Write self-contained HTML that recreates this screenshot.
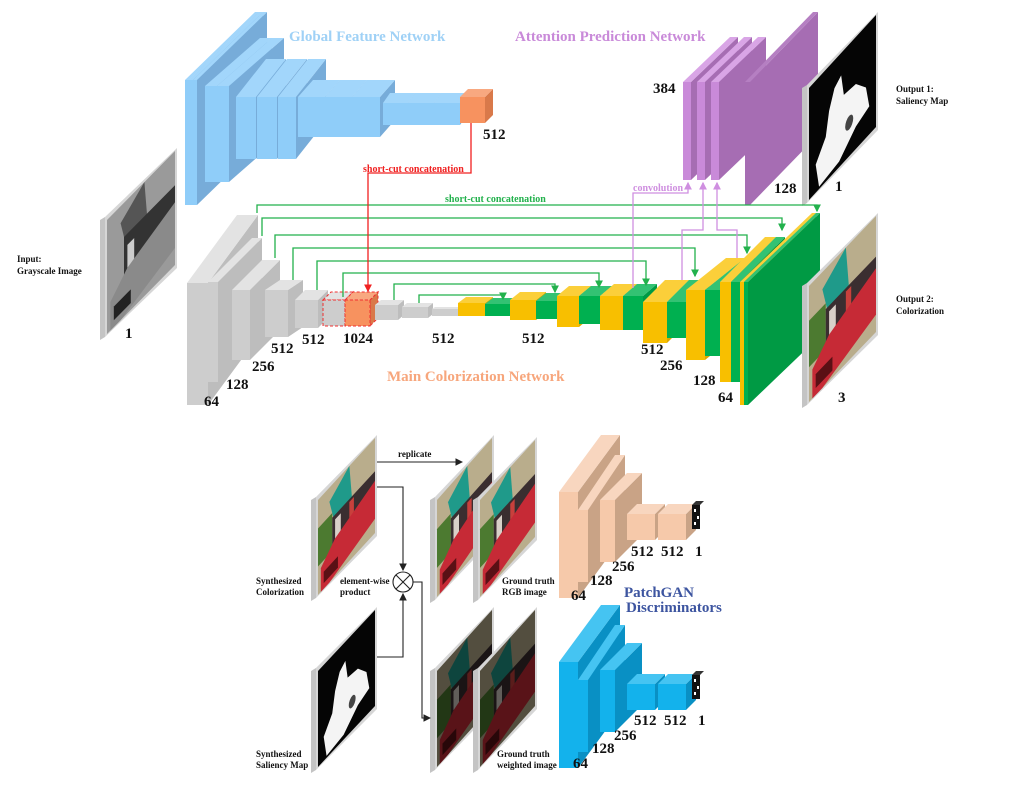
<!DOCTYPE html>
<html><head><meta charset="utf-8"><style>
html,body{margin:0;padding:0;background:#fff;}
svg{display:block;}
text{font-family:"Liberation Serif",serif;font-weight:bold;}
.n{font-size:15px;fill:#111;}
.s{font-size:9px;fill:#111;}
</style></head><body>
<svg id="sv" width="1024" height="811" viewBox="0 0 1024 811" xmlns="http://www.w3.org/2000/svg">
<defs>
<marker id="ag" markerWidth="6" markerHeight="6" refX="5" refY="3" orient="auto"><path d="M0,0L6,3L0,6z" fill="#22b14c"/></marker>
<marker id="ar" markerWidth="6" markerHeight="6" refX="5" refY="3" orient="auto"><path d="M0,0L6,3L0,6z" fill="#f02020"/></marker>
<marker id="ap" markerWidth="6" markerHeight="6" refX="5" refY="3" orient="auto"><path d="M0,0L6,3L0,6z" fill="#cf8fe0"/></marker>
<marker id="ak" markerWidth="7" markerHeight="7" refX="6" refY="3.5" orient="auto"><path d="M0,0L7,3.5L0,7z" fill="#222"/></marker>
<g id="col">
<rect x="0" y="0" width="100" height="100" fill="#b9ad8c"/>
<polygon points="20,15 55,0 60,40 30,45" fill="#1f9a8a"/>
<rect x="0" y="30" width="25" height="40" fill="#4c7a30"/>
<rect x="25" y="35" width="75" height="35" fill="#3a2e30"/>
<rect x="30" y="40" width="10" height="25" fill="#d8d0c8"/>
<rect x="55" y="38" width="8" height="20" fill="#c8403c"/>
<polygon points="5,75 30,60 100,45 100,85 20,100 5,100" fill="#c62a36"/>
<rect x="10" y="82" width="25" height="12" fill="#5a1015"/>
</g>
<g id="gry">
<rect x="0" y="0" width="100" height="100" fill="#9a9a9a"/>
<polygon points="20,15 55,0 60,40 30,45" fill="#555"/>
<rect x="25" y="30" width="75" height="40" fill="#333"/>
<rect x="30" y="40" width="10" height="25" fill="#ccc"/>
<polygon points="5,75 30,60 100,45 100,85 20,100 5,100" fill="#8a8a8a"/>
<rect x="10" y="82" width="25" height="12" fill="#222"/>
</g>
<g id="sal">
<rect x="0" y="0" width="100" height="100" fill="#050505"/>
<path d="M38,25 L48,20 L52,40 L70,42 L85,55 L90,75 L70,80 L45,95 L15,98 L10,75 L25,60 L30,40z" fill="#f4f4f4"/>
<circle cx="60" cy="70" r="6" fill="#444"/>
</g>
<g id="wgt">
<use href="#col"/>
<rect x="0" y="0" width="100" height="100" fill="#000" opacity="0.55"/>
</g>
</defs>
<g id="shapes"></g>

<g fill="none" stroke-width="1.3">
<polyline points="257,213 257,205 817,205 817,211" stroke="#22b14c" marker-end="url(#ag)"/>
<polyline points="262,236 262,218 782,218 782,230" stroke="#22b14c" marker-end="url(#ag)"/>
<polyline points="275,258 275,235 747,235 747,253" stroke="#22b14c" marker-end="url(#ag)"/>
<polyline points="293,280 293,248 695,248 695,276" stroke="#22b14c" marker-end="url(#ag)"/>
<polyline points="317,290 317,261 646,261 646,285" stroke="#22b14c" marker-end="url(#ag)"/>
<polyline points="343,297 343,273 599,273 599,287" stroke="#22b14c" marker-end="url(#ag)"/>
<polyline points="394,300 394,284 555,284 555,292" stroke="#22b14c" marker-end="url(#ag)"/>
<polyline points="419,303 419,295 503,295 503,299" stroke="#22b14c" marker-end="url(#ag)"/>
<polyline points="471,123 471,173 368,173 368,291" stroke="#f02020" marker-end="url(#ar)"/>
<polyline points="633,288 633,193 688,193 688,183" stroke="#cf8fe0" marker-end="url(#ap)"/>
<polyline points="682,280 682,230 703,230 703,183" stroke="#cf8fe0" marker-end="url(#ap)"/>
<polyline points="737,258 737,230 717,230 717,183" stroke="#cf8fe0" marker-end="url(#ap)"/>
<g stroke="#222" stroke-width="1.1">
<polyline points="377,462 462,462" marker-end="url(#ak)"/>
<polyline points="377,487 403,487 403,570" marker-end="url(#ak)"/>
<polyline points="377,657 403,657 403,594" marker-end="url(#ak)"/>
<polyline points="413,582 422,582 422,718 430,718" marker-end="url(#ak)"/>
<circle cx="403" cy="582" r="10" fill="#fff"/>
<line x1="396" y1="575" x2="410" y2="589"/><line x1="410" y1="575" x2="396" y2="589"/>
</g>
</g>

<text x="289" y="41" font-size="15" fill="#9fd1f6">Global Feature Network</text>
<text x="515" y="41" font-size="15" fill="#c98ad9">Attention Prediction Network</text>
<text x="387" y="381" font-size="15" fill="#f7a67c">Main Colorization Network</text>
<text x="363" y="172" font-size="10" fill="#f02020">short-cut concatenation</text>
<text x="445" y="202" font-size="10" fill="#22b14c">short-cut concatenation</text>
<text x="633" y="191" font-size="10" fill="#cf8fe0">convolution</text>
<text x="624" y="597" font-size="15" fill="#3d55a0">PatchGAN</text>
<text x="626" y="612" font-size="15" fill="#3d55a0">Discriminators</text>

<g class="n">
<text x="483" y="139" class="n">512</text>
<text x="653" y="93" class="n">384</text>
<text x="774" y="193" class="n">128</text>
<text x="835" y="191" class="n">1</text>
<text x="838" y="402" class="n">3</text>
<text x="125" y="338" class="n">1</text>
<text x="204" y="406" class="n">64</text>
<text x="226" y="389" class="n">128</text>
<text x="252" y="371" class="n">256</text>
<text x="271" y="353" class="n">512</text>
<text x="302" y="344" class="n">512</text>
<text x="343" y="343" class="n">1024</text>
<text x="432" y="343" class="n">512</text>
<text x="522" y="343" class="n">512</text>
<text x="641" y="354" class="n">512</text>
<text x="660" y="370" class="n">256</text>
<text x="693" y="385" class="n">128</text>
<text x="718" y="402" class="n">64</text>
<text x="631" y="556" class="n">512</text><text x="661" y="556" class="n">512</text><text x="695" y="556" class="n">1</text>
<text x="612" y="571" class="n">256</text><text x="590" y="585" class="n">128</text><text x="571" y="600" class="n">64</text>
<text x="634" y="725" class="n">512</text><text x="664" y="725" class="n">512</text><text x="698" y="725" class="n">1</text>
<text x="614" y="740" class="n">256</text><text x="592" y="753" class="n">128</text><text x="573" y="768" class="n">64</text>
</g>
<g class="s">
<text x="17" y="262" class="s">Input:</text><text x="17" y="274" class="s">Grayscale Image</text>
<text x="896" y="92" class="s">Output 1:</text><text x="896" y="104" class="s">Saliency Map</text>
<text x="896" y="302" class="s">Output 2:</text><text x="896" y="314" class="s">Colorization</text>
<text x="398" y="457" class="s">replicate</text>
<text x="256" y="584" class="s">Synthesized</text><text x="256" y="595" class="s">Colorization</text>
<text x="340" y="584" class="s">element-wise</text><text x="340" y="595" class="s">product</text>
<text x="502" y="584" class="s">Ground truth</text><text x="502" y="595" class="s">RGB image</text>
<text x="256" y="757" class="s">Synthesized</text><text x="256" y="768" class="s">Saliency Map</text>
<text x="497" y="757" class="s">Ground truth</text><text x="497" y="768" class="s">weighted image</text>
</g>
</svg>
<script>
var NS="http://www.w3.org/2000/svg",G=document.getElementById("shapes");
function el(t,a){var e=document.createElementNS(NS,t);for(var k in a)e.setAttribute(k,a[k]);G.appendChild(e);return e;}
function P(pts,f,extra){var a={points:pts.map(function(p){return p.join(",")}).join(" "),fill:f};for(var k in extra)a[k]=extra[k];return el("polygon",a);}
function box(x,y,w,h,dx,dy,c,extra){
 P([[x+w,y],[x+w+dx,y-dy],[x+w+dx,y+h-dy],[x+w,y+h]],c[1],extra);
 P([[x,y],[x+dx,y-dy],[x+w+dx,y-dy],[x+w,y]],c[2],extra);
 el("rect",Object.assign({x:x,y:y,width:w,height:h,fill:c[0]},extra||{}));
}
var GR=["#cdcdcd","#bdbdbd","#e3e3e3"],BL=["#8fcdf9","#77acd9","#a2d6fb"],OR=["#f7925f","#d9794a","#f8a880"],
PU=["#c98ad9","#a66db3","#d9a5e6"],YE=["#f8bf00","#dca800","#fbcf3a"],GN=["#00b050","#009a44","#33c273"],
PE=["#f6c9aa","#c9a386","#f8d6bf"],CY=["#13b2ec","#0990c4","#45c4f2"];
box(185,80,4,125,70,68,BL);box(189,80,4,125,70,68,BL);box(193,80,4,125,70,68,BL);
box(205,86,12,96,55,48,BL);box(217,86,12,96,55,48,BL);
box(236,97,20,62,30,38,BL);box(257,97,20,62,30,38,BL);box(278,97,18,62,30,38,BL);
box(298,97,27,40,15,17,BL);box(325,97,27,40,15,17,BL);box(352,97,28,40,15,17,BL);
box(383,103,25,22,7,10,BL);box(408,103,26,22,7,10,BL);box(434,103,26,22,7,10,BL);
box(460,97,25,26,8,8,OR);
box(187,283,21,122,50,68,GR);box(208,282,10,100,44,44,GR);
box(232,290,18,70,30,30,GR);box(265,290,23,47,15,10,GR);box(295,300,23,28,10,10,GR);
box(323,300,22,26,8,8,GR,{stroke:"#f03030","stroke-dasharray":"3,2"});
box(345,300,25,26,8,8,OR,{stroke:"#f03030","stroke-dasharray":"3,2"});
box(375,305,23,15,6,5,GR);box(402,307,26,11,5,4,GR);box(432,309,26,7,3,2,GR);
box(458,303,27,13,8,6,YE);box(485,304,25,12,8,6,GN);
box(510,300,26,20,10,8,YE);box(536,301,21,18,10,8,GN);
box(557,296,22,31,12,10,YE);box(579,296,21,28,12,10,GN);
box(600,296,23,34,14,12,YE);box(623,296,20,34,14,12,GN);
box(643,302,24,41,22,22,YE);box(667,302,20,36,22,22,GN);
box(686,290,19,70,40,32,YE);box(705,290,15,66,40,32,GN);
box(720,282,11,100,45,45,YE);box(731,282,9,100,45,45,GN);
box(740,282,4,123,72,69,YE);box(744,282,4,123,72,69,GN);
box(683,82,8,98,47,45,PU);box(697,82,8,98,47,45,PU);box(711,82,8,98,47,45,PU);
box(745,82,5,123,68,70,["#a66db3","#a66db3","#b57fc2"]);
function disc(oy,C){
 box(559,492+oy,19,106,42,57,C);box(578,510+oy,10,72,37,55,C);
 box(600,500+oy,15,62,27,27,C);box(627,514+oy,28,26,10,10,C);box(658,514+oy,28,26,10,10,C);
 el("rect",{x:692,y:505+oy,width:8,height:24,fill:"#111"});
 P([[692,505+oy],[696,501+oy],[704,501+oy],[700,505+oy]],"#333");
 el("rect",{x:694,y:509+oy,width:2,height:3,fill:"#fff"});el("rect",{x:697,y:516+oy,width:2,height:3,fill:"#fff"});
 el("rect",{x:694,y:522+oy,width:2,height:3,fill:"#fff"});
}
disc(0,PE);disc(170,CY);
function img(L,T,W,R,H,id){
 P([[L-5,T+3],[L,T],[L,T+H],[L-5,T+H+3]],"#c4c4c4");
 P([[L,T],[L+W,T-R],[L+W,T-R+H],[L,T+H]],"#d6d6d6");
 var u=document.createElementNS(NS,"use");u.setAttribute("href","#"+id);
 u.setAttribute("transform","matrix("+((W-4)/100)+","+(-R/100)+",0,"+((H-6)/100)+","+(L+2)+","+(T+3)+")");G.appendChild(u);
}
img(105,217,72,69,120,"gry");
img(807,85,71,73,118,"sal");
img(807,283,71,70,122,"col");
img(316,497,61,62,101,"col");
img(316,668,61,61,102,"sal");
img(435,497,59,62,103,"col");img(478,497,59,60,103,"col");
img(435,668,59,61,102,"wgt");img(478,668,59,61,102,"wgt");
</script>
</body></html>
